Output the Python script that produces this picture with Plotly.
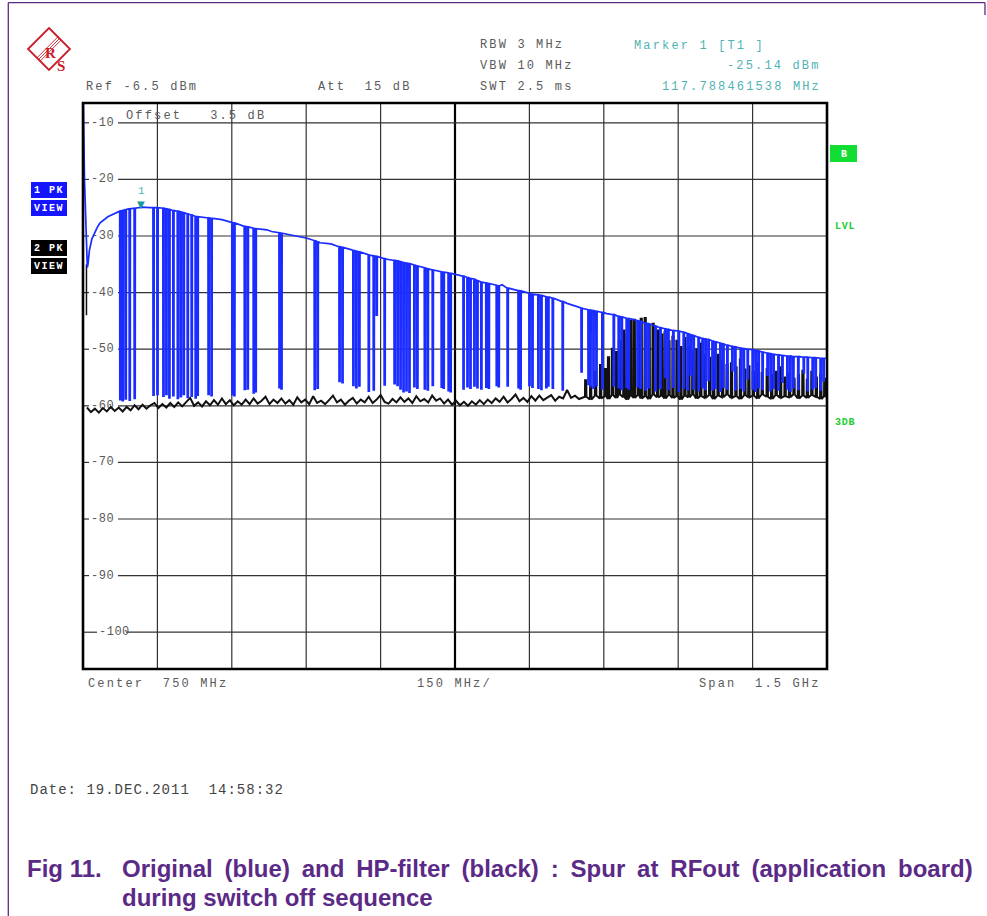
import plotly.graph_objects as go

# ---------------- data ----------------
ref_level_dbm = -6.5
range_db = 100.0
span_mhz = [0, 1500]
x_div_mhz = 150
y_tick_values = [-10, -20, -30, -40, -50, -60, -70, -80, -90, -100]

# trace 1 (blue, original): envelope
blue_env_freq = [0, 3, 8.7, 10, 13, 18, 28, 34, 50, 68, 95, 119, 135, 161, 196, 230, 262, 280, 296, 331,
                 371, 380, 397, 425, 452, 478, 500, 518, 544, 579, 613, 665, 706, 754, 806, 845, 875, 901,
                 941, 976, 1008, 1056, 1117, 1169, 1210, 1262, 1310, 1359, 1411, 1466, 1500]
blue_env_level = [-2.0, -20.0, -35.6, -35.0, -32.5, -30.5, -28.6, -27.7, -26.6, -25.8, -25.1, -24.9, -25.0,
                  -25.1, -25.7, -26.6, -26.9, -27.1, -27.5, -28.4, -28.9, -29.2, -29.5, -29.9, -30.4, -31.2,
                  -31.4, -31.9, -32.5, -33.4, -34.1, -35.1, -36.0, -36.8, -38.2, -38.6, -39.6, -40.2, -40.8,
                  -41.9, -42.8, -43.7, -44.9, -46.3, -47.0, -48.4, -49.6, -50.2, -51.1, -51.4, -51.6]

# trace 1: drop-outs (frequency, level before the drop, level at the bottom)
blue_drop_freq = [
    74, 79, 85, 93, 103, 141, 149, 161, 167, 173, 181, 190, 196, 202, 210, 218, 226, 230, 252, 258,
    300, 304, 325, 331, 343, 347,
    395, 399, 466, 472, 516, 522, 544, 550, 556, 575, 585, 591, 607, 627, 633, 639, 645, 651, 657,
    667, 673, 688, 694, 704, 722, 726, 736, 740, 766,
    774, 780, 788, 794, 802, 812, 817, 833, 837, 855, 877, 881, 899, 905, 917, 923, 933, 937, 946,
    966, 1004, 1018, 1022, 1028, 1034, 1046, 1069, 1079, 1085, 1095, 1099, 1117, 1123,
    1133, 1139, 1153, 1163, 1173, 1179, 1189, 1200, 1210, 1218, 1224, 1230, 1240, 1248, 1254,
    1260, 1268, 1274, 1284, 1290, 1298, 1308, 1314, 1325, 1331, 1339, 1349, 1355, 1361, 1369,
    1379, 1385, 1391, 1401, 1409, 1419, 1425, 1431, 1441, 1452, 1460, 1470, 1476, 1486, 1492]
blue_drop_top = [
    -25.6, -25.5, -25.3, -25.2, -25.1, -25.0, -25.0, -25.1, -25.2, -25.3, -25.5, -25.6, -25.7, -25.9,
    -26.1, -26.3, -26.5, -26.6, -26.8, -26.9, -27.6, -27.7, -28.3, -28.4, -28.6, -28.7,
    -29.4, -29.5, -30.8, -31.0, -31.9, -32.0, -32.5, -32.7, -32.8, -33.3, -33.5, -33.6, -34.0, -34.3,
    -34.4, -34.5, -34.7, -34.8, -34.9, -35.1, -35.3, -35.6, -35.8, -36.0, -36.3, -36.4, -36.5, -36.6,
    -37.1,
    -37.3, -37.5, -37.6, -37.9, -38.1, -38.3, -38.4, -38.7, -38.8, -39.2, -39.6, -39.7, -40.1, -40.3,
    -40.4, -40.5, -40.7, -40.8, -41.0, -41.6, -42.7, -43.0, -43.1, -43.2, -43.3, -43.5, -43.9, -44.2,
    -44.3, -44.5, -44.6, -44.9, -45.1,
    -45.4, -45.5, -45.9, -46.2, -46.4, -46.5, -46.7, -46.8, -47.0, -47.2, -47.4, -47.6, -47.9, -48.1,
    -48.2, -48.3, -48.5, -48.7, -48.9, -49.1, -49.3, -49.5, -49.6, -49.8, -49.9, -50.0, -50.1, -50.2,
    -50.3, -50.5, -50.7, -50.8, -50.9, -51.0, -51.1, -51.2, -51.2, -51.3, -51.3, -51.4, -51.4, -51.5,
    -51.5, -51.6, -51.6]
blue_drop_bottom = [
    -58.9, -59.1, -58.8, -59.0, -58.7, -58.1, -58.0, -58.3, -58.0, -58.6, -58.2, -58.7, -58.4, -58.0,
    -58.5, -58.3, -58.6, -58.1, -58.0, -58.2, -58.0, -58.2, -57.1, -57.0, -57.7, -57.5,
    -56.8, -57.0, -57.1, -56.9, -55.7, -55.9, -56.4, -56.8, -56.5, -57.4, -57.2, -44.0, -56.3, -56.1,
    -56.4, -57.0, -57.5, -57.3, -57.6, -56.6, -56.9, -57.0, -57.2, -56.4, -56.7, -56.9, -57.3, -57.5,
    -57.0,
    -56.6, -56.9, -56.5, -56.8, -57.0, -56.7, -56.9, -56.4, -56.6, -56.5, -56.8, -57.0, -56.4, -56.7,
    -56.9, -57.1, -56.8, -56.5, -56.9, -57.2, -54.0, -56.2, -56.6, -56.9, -56.4, -57.0, -56.5, -56.8,
    -57.1, -56.7, -57.0, -56.6, -56.9,
    -57.2, -56.8, -57.3, -56.9, -55.0, -57.1, -56.7, -57.4, -56.9, -57.2, -54.5, -57.0, -57.3, -56.8,
    -57.1, -55.5, -57.2, -56.9, -57.4, -56.7, -57.0, -53.8, -57.2, -56.9, -57.3, -55.2, -57.0, -57.4,
    -56.8, -57.1, -54.6, -57.3, -56.9, -57.2, -55.8, -57.0, -57.4, -56.8, -57.1, -54.2, -57.3, -57.0,
    -56.7, -57.2, -55.6]

# trace 2 (black, HP-filter): noise floor
black_floor_freq = [
    8, 16, 24, 32, 40, 48, 56, 64, 72, 80, 88, 96, 104, 112, 120, 128, 136, 144, 152, 160,
    168, 176, 184, 192, 200, 208, 216, 224, 232, 240, 248, 256, 264, 272, 280, 288, 296, 304, 312, 320,
    328, 336, 344, 352, 360, 368, 376, 384, 392, 400, 408, 416, 424, 432, 440, 448, 456, 464, 472, 480,
    488, 496, 504, 512, 520, 528, 536, 544, 552, 560, 568, 576, 584, 592, 600, 608, 616, 624, 632, 640,
    648, 656, 664, 672, 680, 688, 696, 704, 712, 720, 728, 736, 744, 752, 760, 768, 776, 784, 792, 800,
    808, 816, 824, 832, 840, 848, 856, 864, 872, 880, 888, 896, 904, 912, 920, 928, 936, 944, 952, 960,
    968, 976, 984, 992, 1000, 1500]
black_floor_level = [
    -60.3, -61.1, -60.5, -61.2, -60.4, -61.0, -60.2, -60.9, -60.3, -61.0,
    -60.2, -60.8, -59.9, -60.6, -59.8, -60.5, -59.9, -59.5, -60.4, -59.7,
    -60.3, -59.5, -60.2, -59.4, -60.1, -59.3, -58.6, -60.0, -59.4, -60.1,
    -59.2, -59.9, -59.0, -59.8, -58.7, -59.7, -59.0, -59.9, -59.2, -59.8,
    -58.9, -59.7, -58.7, -59.6, -59.1, -58.4, -59.7, -58.9, -59.5, -58.7,
    -59.6, -59.0, -59.8, -58.5, -59.4, -58.9, -59.7, -58.3, -59.5, -59.1,
    -59.7, -59.0, -58.2, -59.4, -58.9, -59.8, -59.1, -58.6, -59.6, -58.9,
    -59.4, -58.4, -59.5, -58.9, -58.1, -59.3, -59.6, -58.8, -59.4, -58.5,
    -59.3, -58.7, -59.5, -58.3, -59.2, -58.8, -59.4, -58.2, -59.1, -58.7,
    -59.6, -58.9, -59.8, -59.1, -59.9, -59.3, -60.0, -59.2, -59.8, -59.0,
    -59.7, -58.9, -59.5, -58.7, -59.3, -58.4, -59.4, -58.8, -58.0, -59.2,
    -58.6, -59.3, -58.3, -59.1, -58.2, -59.0, -58.5, -58.1, -59.1, -58.4,
    -58.7, -57.2, -58.6, -58.2, -58.8, -58.4]

# trace 2: spurs above the floor (frequency, peak level, floor level at the spur)
black_spike_freq = [
    1012, 1022, 1032, 1042, 1052, 1058, 1066, 1074, 1080, 1089, 1096, 1103, 1110, 1118, 1124,
    1132, 1140, 1148, 1157, 1165, 1172, 1180, 1188, 1196, 1204, 1212, 1220, 1228, 1236, 1244,
    1253, 1262, 1270, 1279, 1288, 1297, 1306, 1315, 1324, 1333, 1341, 1350, 1359, 1368, 1378,
    1387, 1396, 1405, 1414, 1423, 1432, 1441, 1450, 1459, 1468, 1477, 1486, 1494]
black_spike_peak = [
    -55.5, -56.5, -54.0, -52.8, -53.5, -51.4, -49.9, -50.5, -48.5, -46.7, -47.5, -45.0, -44.8, -45.2,
    -44.6, -44.5, -45.8, -45.5, -46.7, -47.4, -47.0, -48.6, -47.8, -48.5, -49.6, -48.0, -49.5, -50.4,
    -50.0, -49.0, -51.0, -51.5, -50.6, -51.0, -52.0, -52.8, -52.5, -53.2, -51.8, -53.6, -53.0, -54.0,
    -52.5, -54.2, -53.5, -54.6, -54.0, -53.2, -55.0, -54.3, -55.2, -54.5, -53.8, -55.4, -54.0, -55.0,
    -54.5, -55.2]
black_spike_base = [
    -58.4, -58.9, -58.2, -58.7, -58.3, -58.8, -58.1, -58.6, -58.0, -58.5, -58.9, -58.2, -58.6, -58.1,
    -58.7, -58.3, -58.8, -58.0, -58.5, -58.2, -58.7, -58.1, -58.6, -58.3, -58.9, -58.2, -58.5, -58.0,
    -58.7, -58.3, -58.6, -58.1, -58.8, -58.2, -58.5, -58.0, -58.6, -58.3, -58.8, -58.1, -58.5, -58.2,
    -58.7, -58.0, -58.4, -58.8, -58.1, -58.6, -58.3, -58.5, -58.0, -58.7, -58.2, -58.6, -58.1, -58.4,
    -58.8, -58.3]
black_stub_freq = [7, 7]
black_stub_level = [-35.0, -44.0]

marker_freq = 117.788461538
marker_level = -25.14

# ---------------- build traces ----------------
DROP_W = 2.5
blue_pts = []
for f, lv in zip(blue_env_freq, blue_env_level):
    if any(d - 1.0 <= f <= d + DROP_W + 1.0 for d in blue_drop_freq):
        continue
    blue_pts.append((f, lv))
for f, t, b in zip(blue_drop_freq, blue_drop_top, blue_drop_bottom):
    blue_pts += [(f, t), (f + 0.2, b), (f + DROP_W - 0.2, b), (f + DROP_W, t)]
blue_pts.sort(key=lambda p: p[0])

SPK_W = 3.0
black_pts = list(zip(black_floor_freq, black_floor_level))
for f, p, b in zip(black_spike_freq, black_spike_peak, black_spike_base):
    black_pts += [(f, b), (f + 0.3, p), (f + SPK_W - 0.3, p), (f + SPK_W, b)]
black_pts.sort(key=lambda p: p[0])

# ---------------- layout helpers ----------------
W_PX, H_PX = 987, 916
L, R, T, B = 83, 827, 103, 669
MHZ_PER_PX = (span_mhz[1] - span_mhz[0]) / (R - L)


def px(x):
    return (x - L) / (R - L)


def py(y):
    return (B - y) / (B - T)


def mhz(x):
    return (x - L) * MHZ_PER_PX


BLUE = '#1a2cff'
GRAY = '#5a5a5a'
GRID = '#333333'
TEAL = '#4fb3b3'
MONO = 'Liberation Mono'
NB = '\u00a0'
PURPLE = '#5b2a86'
RED = '#cc1d2a'


def sp(text, ls):
    return '<span style="letter-spacing:{}px">{}</span>'.format(ls, text.replace(' ', NB))


fig = go.Figure()
# y-axis scale labels sit inside the grid, under the traces
lab_x = [mhz(91) if v > -100 else mhz(99) for v in y_tick_values]
fig.add_trace(go.Scatter(x=lab_x, y=y_tick_values, mode='text', text=[sp(str(v), 0.5) for v in y_tick_values],
                         textposition='middle right', textfont=dict(family=MONO, size=12, color=GRAY),
                         hoverinfo='skip', cliponaxis=False))
fig.add_trace(go.Scatter(x=black_stub_freq, y=black_stub_level, mode='lines',
                         line=dict(color='#111111', width=1.5), hoverinfo='skip'))
fig.add_trace(go.Scatter(x=[p[0] for p in black_pts], y=[p[1] for p in black_pts], mode='lines',
                         line=dict(color='#111111', width=2.0), hoverinfo='skip'))
fig.add_trace(go.Scatter(x=[p[0] for p in blue_pts], y=[p[1] for p in blue_pts], mode='lines',
                         line=dict(color=BLUE, width=1.7), hoverinfo='skip'))

fig.update_layout(
    width=W_PX, height=H_PX,
    margin=dict(l=L, r=W_PX - R, t=T, b=H_PX - B, pad=0),
    paper_bgcolor='white', plot_bgcolor='white', showlegend=False,
)
fig.update_xaxes(range=span_mhz, showgrid=False, showticklabels=False, ticks='', zeroline=False,
                 showline=False)
fig.update_yaxes(range=[ref_level_dbm - range_db, ref_level_dbm], showgrid=False, showticklabels=False,
                 ticks='', zeroline=False, showline=False)

shapes = []
# graticule: horizontal lines broken where the scale labels sit
for v in y_tick_values:
    g0 = mhz(89) if v > -100 else mhz(97)
    g1 = mhz(118) if v > -100 else mhz(126)
    for a, b in ((span_mhz[0], g0), (g1, span_mhz[1])):
        shapes.append(dict(type='line', xref='x', yref='y', x0=a, x1=b, y0=v, y1=v,
                           line=dict(color=GRID, width=1.2), layer='below'))
# vertical divisions
mid = (span_mhz[0] + span_mhz[1]) / 2
for k in range(1, 10):
    xv = span_mhz[0] + k * x_div_mhz
    if xv == mid:
        continue
    shapes.append(dict(type='line', xref='x', yref='paper', x0=xv, x1=xv, y0=0, y1=1,
                       line=dict(color=GRID, width=1.2), layer='below'))
shapes.append(dict(type='line', xref='x', yref='paper', x0=mid, x1=mid, y0=0, y1=1,
                   line=dict(color='black', width=2.2), layer='below'))
shapes.append(dict(type='rect', xref='paper', yref='paper', x0=0, x1=1, y0=0, y1=1,
                   line=dict(color='black', width=2.6)))
# page border (purple)
shapes.append(dict(type='line', xref='paper', yref='paper', x0=px(8.3), x1=px(8.3), y0=py(2.5), y1=py(920),
                   line=dict(color=PURPLE, width=1.3)))
shapes.append(dict(type='line', xref='paper', yref='paper', x0=px(8.3), x1=px(985), y0=py(2.7), y1=py(2.7),
                   line=dict(color=PURPLE, width=1.3)))
shapes.append(dict(type='line', xref='paper', yref='paper', x0=px(985), x1=px(985), y0=py(2.7), y1=py(15),
                   line=dict(color=PURPLE, width=1.3)))
# left trace labels
for (y0, y1, col) in [(182, 198, '#1414ff'), (200, 216, '#1414ff'), (240, 256, '#000000'), (258, 274, '#000000')]:
    shapes.append(dict(type='rect', xref='paper', yref='paper', x0=px(31), x1=px(67), y0=py(y1), y1=py(y0),
                       fillcolor=col, line=dict(width=0)))
# right green box
shapes.append(dict(type='rect', xref='paper', yref='paper', x0=px(830), x1=px(857), y0=py(162), y1=py(145),
                   fillcolor='#11dd33', line=dict(width=0)))
# R&S logo
dpath = 'M {} {} L {} {} L {} {} L {} {} Z'.format(px(49), py(28), px(70), py(49), px(49), py(70), px(28), py(49))
shapes.append(dict(type='path', xref='paper', yref='paper', path=dpath, line=dict(color=RED, width=1.8)))
for off in (-1.6, 0, 1.6):
    shapes.append(dict(type='line', xref='paper', yref='paper',
                       x0=px(38.5 + off), y0=py(59.5 + off), x1=px(59.5 + off), y1=py(38.5 + off),
                       line=dict(color=RED, width=0.9)))
fig.update_layout(shapes=shapes)

anns = []


def add_text(x, y, text, size=12, color=GRAY, anchor='left', ls=2.15, family=MONO, bold=False):
    t = sp(text, ls)
    if bold:
        t = '<b>' + t + '</b>'
    anns.append(dict(x=px(x), y=py(y), xref='paper', yref='paper', text=t, showarrow=False,
                     xanchor=anchor, yanchor='middle', font=dict(family=family, size=size, color=color)))


add_text(84, 87, 'Ref -6.5 dBm')
add_text(316, 87, 'Att  15 dB')
add_text(478, 45, 'RBW 3 MHz')
add_text(478, 66, 'VBW 10 MHz')
add_text(478, 87, 'SWT 2.5 ms')
add_text(632, 46, 'Marker 1 [T1 ]', color=TEAL)
add_text(823, 66, '-25.14 dBm', color=TEAL, anchor='right')
add_text(823, 87, '117.788461538 MHz', color=TEAL, anchor='right')
add_text(124, 116, 'Offset   3.5 dB')
add_text(86, 684, 'Center  750 MHz')
add_text(415, 684, '150 MHz/')
add_text(823, 684, 'Span  1.5 GHz', anchor='right')
add_text(28, 790, 'Date: 19.DEC.2011  14:58:32', size=14, color='#444444', ls=1.0)
add_text(49, 190, '1 PK', size=10, color='white', anchor='center', ls=1.5, bold=True)
add_text(49, 208, 'VIEW', size=10, color='white', anchor='center', ls=1.5, bold=True)
add_text(49, 248, '2 PK', size=10, color='white', anchor='center', ls=1.5, bold=True)
add_text(49, 266, 'VIEW', size=10, color='white', anchor='center', ls=1.5, bold=True)
add_text(844, 154, 'B', size=10, color='white', anchor='center', ls=0, bold=True)
add_text(845, 226, 'LVL', size=10, color='#22cc33', anchor='center', ls=0.8, bold=True)
add_text(845, 422, '3DB', size=10, color='#22cc33', anchor='center', ls=0.8, bold=True)
# logo letters
anns.append(dict(x=px(42.5), y=py(43), xref='paper', yref='paper', text='<b>R</b>', showarrow=False,
                 font=dict(family='Liberation Serif', size=15, color=RED)))
anns.append(dict(x=px(55), y=py(56), xref='paper', yref='paper', text='<b>S</b>', showarrow=False,
                 font=dict(family='Liberation Serif', size=15, color=RED)))

# marker 1
anns.append(dict(x=marker_freq, y=marker_level, xref='x', yref='y', text='▼', showarrow=False,
                 yanchor='middle', yshift=4, font=dict(family='DejaVu Sans', size=10, color='#169a9a')))
anns.append(dict(x=marker_freq, y=marker_level, xref='x', yref='y', text='1', showarrow=False,
                 yanchor='middle', yshift=18, font=dict(family=MONO, size=11, color=TEAL)))

# caption
CAP_FONT = dict(family='Liberation Sans', size=24, color=PURPLE)
anns.append(dict(x=px(25), y=py(868), xref='paper', yref='paper', text='<b>Fig 11.</b>', showarrow=False,
                 xanchor='left', yanchor='middle', font=CAP_FONT))
anns.append(dict(x=px(120), y=py(868), xref='paper', yref='paper',
                 text='<b><span style="word-spacing:5.2px">Original (blue) and HP-filter (black) : '
                      'Spur at RFout (application board)</span></b>',
                 showarrow=False, xanchor='left', yanchor='middle', font=CAP_FONT))
anns.append(dict(x=px(120), y=py(897), xref='paper', yref='paper', text='<b>during switch off sequence</b>',
                 showarrow=False, xanchor='left', yanchor='middle', font=CAP_FONT))

fig.update_layout(annotations=anns)

fig.write_html("out.html", config={'displayModeBar': False},
               post_script="document.body.style.margin='0px';")
